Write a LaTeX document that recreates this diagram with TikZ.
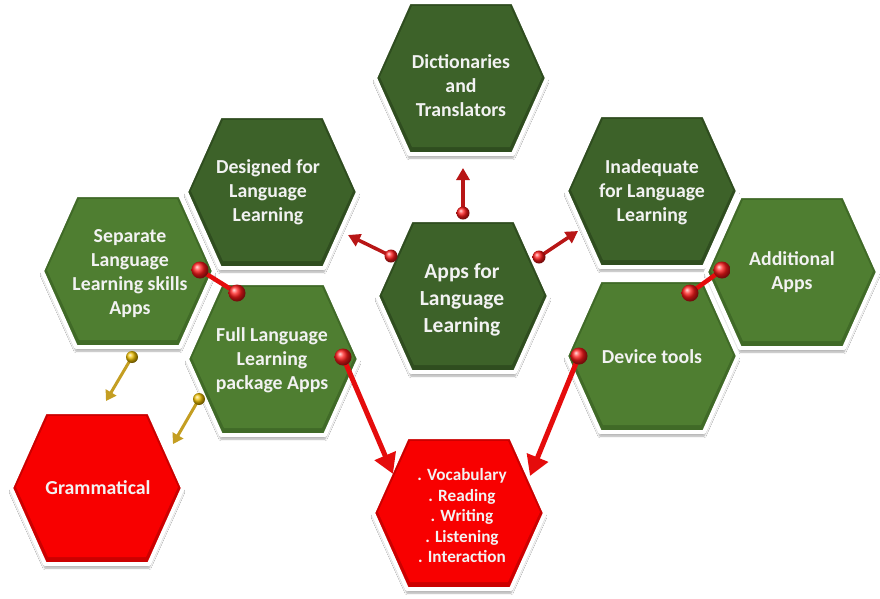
\documentclass[tikz,border=0pt]{standalone}
\usepackage{fontspec}
\setmainfont{Carlito}
\usetikzlibrary{arrows.meta,shadows.blur}

\definecolor{darkface}{HTML}{3D6229}
\definecolor{darkrim}{HTML}{2F4D1F}
\definecolor{lightface}{HTML}{4F7E31}
\definecolor{lightrim}{HTML}{406A27}
\definecolor{redface}{HTML}{F80000}
\definecolor{redrim}{HTML}{CC0000}
\definecolor{labelwhite}{HTML}{F2F2F2}
\definecolor{linkred}{HTML}{E50C0C}
\definecolor{pointerred}{HTML}{B81616}
\definecolor{goldline}{HTML}{C49E22}
\definecolor{goldball}{HTML}{F0C000}

\pgfdeclarelayer{background}
\pgfsetlayers{background,main}

% hexagon cell: centre x, centre y, rim colour, face colour
\newcommand\hexcell[4]{%
  \begin{scope}[shift={(#1,#2)}]
    \path[fill=#3, draw=white, line width=4pt, line join=round,
          blur shadow={shadow xshift=0pt, shadow yshift=-4pt,
                       shadow blur steps=6, shadow opacity=35}]
      (-86,0) -- (-52,-76) -- (52,-76) -- (86,0) -- (52,76) -- (-52,76) -- cycle;
    \fill[#4] (-81,-1) -- (-49,-72) -- (49,-72) -- (81,-1) -- (49,69) -- (-49,69) -- cycle;
  \end{scope}}

\tikzset{
  celltext/.style={text=labelwhite, align=center, inner sep=0pt,
                   font=\bfseries\fontsize{19.8}{24}\selectfont},
  pointer/.style={draw=pointerred, line width=3.5pt,
                  -{Triangle[width=13pt,length=12pt]}},
  bigpointer/.style={draw=linkred, line width=5pt,
                     -{Triangle[width=22pt,length=20pt]}},
  goldpointer/.style={draw=goldline, line width=3pt,
                      -{Triangle[width=12pt,length=10pt]}},
  linkbar/.style={draw=linkred, line width=4.5pt},
  redball/.style={circle, inner sep=0pt, minimum size=13pt, shade, ball color=red!90!white},
  bigredball/.style={circle, inner sep=0pt, minimum size=17pt, shade, ball color=red!90!white},
  goldknob/.style={circle, inner sep=0pt, minimum size=12pt, shade, ball color=goldball},
}

\begin{document}
\begin{tikzpicture}[x=1pt,y=-1pt]
\useasboundingbox (0,0) rectangle (880,598);

% page and cells
\begin{pgfonlayer}{background}
  \fill[white] (0,0) rectangle (880,598);
  \hexcell{461}{78}{darkrim}{darkface}
  \hexcell{272}{192}{darkrim}{darkface}
  \hexcell{652}{191}{darkrim}{darkface}
  \hexcell{128}{271}{lightrim}{lightface}
  \hexcell{792}{272}{lightrim}{lightface}
  \hexcell{463}{296}{darkrim}{darkface}
  \hexcell{273}{359}{lightrim}{lightface}
  \hexcell{652}{356}{lightrim}{lightface}
  \hexcell{97}{488}{redrim}{redface}
  \hexcell{459}{513}{redrim}{redface}
\end{pgfonlayer}

% labels
\node[celltext] (dict) at (461,86) {Dictionaries\\and\\Translators};
\node[celltext] (designed) at (268,192) {Designed for\\Language\\Learning};
\node[celltext] (inadequate) at (652,192) {Inadequate\\for Language\\Learning};
\node[celltext] (separate) at (130,274) {Separate\\Language\\Learning skills\\Apps};
\node[celltext, font=\bfseries\fontsize{21.5}{27}\selectfont] (apps) at (462,300) {Apps for\\Language\\Learning};
\node[celltext] (additional) at (792,272) {Additional\\Apps};
\node[celltext] (full) at (272,360) {Full Language\\Learning\\package Apps};
\node[celltext] (device) at (652,357) {Device tools};
\node[celltext] (gram) at (98,488) {Grammatical};
\node[celltext, font=\bfseries\fontsize{17.2}{20.5}\selectfont] (vocab) at (462,516)
  {. Vocabulary\\. Reading\\. Writing\\. Listening\\. Interaction};

% connector anchors
\coordinate (a1) at (463,213); \coordinate (a1t) at (463,168);
\coordinate (a2) at (391,256); \coordinate (a2t) at (348,235);
\coordinate (a3) at (539,257); \coordinate (a3t) at (578,231);
\coordinate (l1) at (200,270); \coordinate (l2) at (237,293);
\coordinate (l3) at (722,270); \coordinate (l4) at (690,293);
\coordinate (b1) at (343,357); \coordinate (b1t) at (393,474);
\coordinate (b2) at (579,356); \coordinate (b2t) at (530,476);
\coordinate (g1) at (132,357); \coordinate (g1t) at (106,401);
\coordinate (g2) at (199,399); \coordinate (g2t) at (173,444);

% connectors from the central cell
\draw[pointer] (a1) -- (a1t);
\draw[pointer] (a2) -- (a2t);
\draw[pointer] (a3) -- (a3t);
\node[redball] (a1k) at (a1) {};
\node[redball] (a2k) at (a2) {};
\node[redball] (a3k) at (a3) {};

% links between neighbouring cells
\draw[linkbar] (l1) -- (l2);
\draw[linkbar] (l3) -- (l4);
\node[bigredball] (l1k) at (l1) {};
\node[bigredball] (l2k) at (l2) {};
\node[bigredball] (l3k) at (l3) {};
\node[bigredball] (l4k) at (l4) {};

% connectors to the skills cell
\draw[bigpointer] (b1) -- (b1t);
\draw[bigpointer] (b2) -- (b2t);
\node[bigredball] (b1k) at (b1) {};
\node[bigredball] (b2k) at (b2) {};

% connectors to the grammar cell
\draw[goldpointer] (g1) -- (g1t);
\draw[goldpointer] (g2) -- (g2t);
\node[goldknob] (g1k) at (g1) {};
\node[goldknob] (g2k) at (g2) {};
\end{tikzpicture}
\end{document}
